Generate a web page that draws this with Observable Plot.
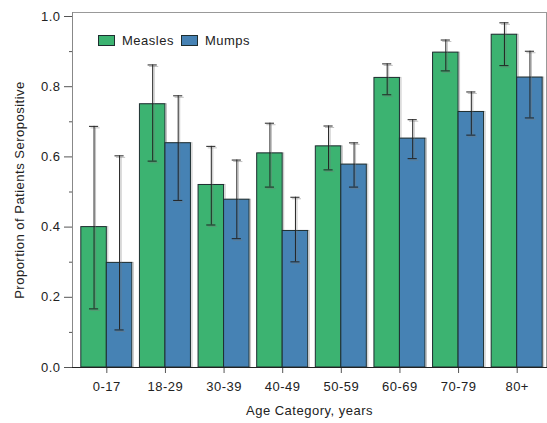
<!DOCTYPE html>
<html>
<head>
<meta charset="utf-8">
<script src="https://cdn.jsdelivr.net/npm/d3@7"></script>
<script src="https://cdn.jsdelivr.net/npm/@observablehq/plot@0.6"></script>
<style>
  body { margin: 0; background: #fff; }
  #wrap { position: relative; width: 547px; height: 423px; font-family: "Liberation Sans", Arial, sans-serif; }
  #legend { position: absolute; left: 98px; top: 33px; display: flex; align-items: center; font-size: 13px; letter-spacing: 0.5px; color: #222; }
  .sw { width: 15px; height: 9px; border: 1px solid #1e2e30; margin-right: 7px; }
  .item { display: flex; align-items: center; margin-right: 7px; }
</style>
</head>
<body>
<div id="wrap"><div id="legend"></div></div>
<script>
const categories = ["0-17", "18-29", "30-39", "40-49", "50-59", "60-69", "70-79", "80+"];
const series = ["Measles", "Mumps"];
const measles = [0.40, 0.75, 0.52, 0.61, 0.63, 0.825, 0.897, 0.948];
const measlesLow = [0.167, 0.588, 0.406, 0.514, 0.563, 0.777, 0.845, 0.860];
const measlesHigh = [0.687, 0.862, 0.630, 0.696, 0.688, 0.865, 0.933, 0.982];
const mumps = [0.298, 0.639, 0.478, 0.389, 0.578, 0.652, 0.728, 0.826];
const mumpsLow = [0.107, 0.476, 0.367, 0.301, 0.514, 0.595, 0.662, 0.711];
const mumpsHigh = [0.603, 0.774, 0.591, 0.485, 0.640, 0.706, 0.785, 0.901];
const colors = ["#3cb371", "#4682b4"];
const yTicks = [0, 0.2, 0.4, 0.6, 0.8, 1.0];
const yMinor = [0.1, 0.3, 0.5, 0.7, 0.9];

const barW = 0.435;
const capW = 0.078;
const rows = [];
categories.forEach((c, i) => {
  rows.push({cat: c, i, s: "Measles", v: measles[i], lo: measlesLow[i], hi: measlesHigh[i], x1: i - barW, x2: i});
  rows.push({cat: c, i, s: "Mumps", v: mumps[i], lo: mumpsLow[i], hi: mumpsHigh[i], x1: i, x2: i + barW});
});
rows.forEach(d => d.xc = (d.x1 + d.x2) / 2);

const errMarks = (color, opacity, dx, dy) => [
  Plot.ruleX(rows, {x: "xc", y1: "lo", y2: "hi", stroke: color, strokeOpacity: opacity, strokeWidth: 1, dx, dy}),
  Plot.ruleY(rows, {y: "hi", x1: d => d.xc - capW, x2: d => d.xc + capW, stroke: color, strokeOpacity: opacity, strokeWidth: 1, dx, dy}),
  Plot.ruleY(rows, {y: "lo", x1: d => d.xc - capW, x2: d => d.xc + capW, stroke: color, strokeOpacity: opacity, strokeWidth: 1, dx, dy})
];

const plot = Plot.plot({
  width: 547,
  height: 423,
  marginTop: 12,
  marginBottom: 56,
  marginLeft: 72,
  marginRight: 1,
  style: {fontFamily: '"Liberation Sans", Arial, sans-serif', fontSize: "13px", color: "#222", background: "#fff"},
  x: {type: "linear", domain: [-0.5, categories.length - 0.5], insetLeft: 5, insetRight: 0},
  y: {domain: [0, 1], insetTop: 4},
  color: {domain: series, range: colors},
  marks: [
    Plot.rect(rows, {x1: "x1", x2: "x2", y1: 0, y2: "v", dx: 1.5, fill: "none", stroke: "#999", strokeOpacity: 0.6, strokeWidth: 1}),
    Plot.rect(rows, {x1: "x1", x2: "x2", y1: 0, y2: "v", fill: "s", stroke: "#1e2e30", strokeWidth: 1}),
    ...errMarks("#777", 0.45, 1.5, 1.5),
    ...errMarks("#222", 1, 0, 0),
    Plot.axisY({ticks: yTicks, tickFormat: d3.format(".1f"), tickSize: 8, tickPadding: 4, label: "Proportion of Patients Seropositive", labelAnchor: "center", labelOffset: 58, labelArrow: "none", fontSize: 13, stroke: "#555"}),
    Plot.axisY({ticks: yMinor, tickFormat: () => "", tickSize: 3, label: null, stroke: "#555"}),
    Plot.axisX({ticks: d3.range(categories.length), tickFormat: i => categories[i], tickSize: 6, tickPadding: 8, label: "Age Category, years", labelAnchor: "center", labelOffset: 47, labelArrow: "none", fontSize: 13, stroke: "#555"}),
    Plot.frame({anchor: "top", stroke: "#999"}),
    Plot.frame({anchor: "right", stroke: "#999"}),
    Plot.frame({anchor: "left", stroke: "#888"}),
    Plot.frame({anchor: "bottom", stroke: "#222"})
  ]
});
d3.select(plot).selectAll("text").attr("letter-spacing", "0.5px");
document.getElementById("wrap").prepend(plot);

const legend = document.getElementById("legend");
series.forEach((s, k) => {
  const item = document.createElement("div");
  item.className = "item";
  const sw = document.createElement("div");
  sw.className = "sw";
  sw.style.background = colors[k];
  const t = document.createElement("span");
  t.textContent = s;
  item.append(sw, t);
  legend.append(item);
});
</script>
</body>
</html>
